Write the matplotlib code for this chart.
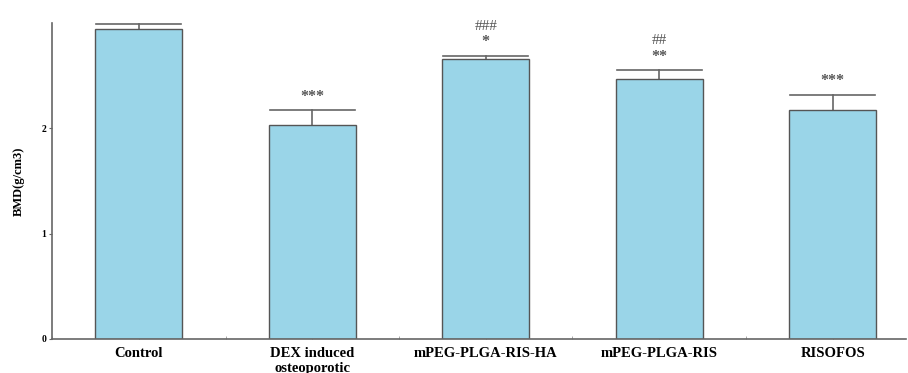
import matplotlib.pyplot as plt
import numpy as np

# Data
groups = ['Control', 'DEX induced\nosteoporotic', 'mPEG-PLGA-RIS-HA', 'mPEG-PLGA-RIS', 'RISOFOS']
bmd = [2.94, 2.03, 2.66, 2.47, 2.17]
err = [0.05, 0.14, 0.03, 0.08, 0.15]
stars = ['', '***', '*', '**', '***']
hashes = ['', '', '###', '##', '']

plt.rcParams['font.family'] = ['Liberation Serif', 'DejaVu Serif']

fig = plt.figure(figsize=(9.08, 3.73), dpi=100)
ax = fig.add_axes([0.0573, 0.0912, 0.94, 0.847])

x = np.arange(len(groups))
ax.bar(x, bmd, width=0.5, color='#9AD5E8', edgecolor='#555555', linewidth=1.0, zorder=2)

# upper error bars only, cap as wide as the bar
for xi, v, e in zip(x, bmd, err):
    ax.plot([xi, xi], [v, v + e], color='#666666', lw=1.2, zorder=1)
    ax.plot([xi - 0.245, xi + 0.245], [v + e, v + e], color='#666666', lw=1.2, zorder=1)

# significance marks
for xi, v, e, s, h in zip(x, bmd, err, stars, hashes):
    if s:
        ax.text(xi, v + e + 0.05, s, ha='center', va='bottom', fontsize=11.5,
                color='#555555', fontweight='bold')
    if h:
        ax.text(xi, v + e + 0.22, h, ha='center', va='bottom', fontsize=11,
                color='#555555')

ax.set_xlim(-0.49, 4.42)
ax.set_ylim(0, 3.0)
ax.set_yticks([0, 1, 2])
ax.set_yticklabels(['0', '1', '2'], fontsize=7, fontweight='bold')
ax.set_xticks(x)
ax.set_xticklabels(groups, fontsize=10.5, fontweight='bold', va='top')
ax.set_xticks(np.arange(-0.5, 4.5, 0.5), minor=True)
ax.tick_params(axis='x', which='both', direction='in', length=2, color='#999999', pad=6)
ax.tick_params(axis='y', direction='out', length=2, color='#666666', pad=2)
ax.set_ylabel('BMD(g/cm3)', fontsize=9, fontweight='bold', labelpad=12)

for side in ['top', 'right']:
    ax.spines[side].set_visible(False)
for side in ['left', 'bottom']:
    ax.spines[side].set_color('#666666')
    ax.spines[side].set_linewidth(1.2)

plt.savefig('out.png', dpi=100)
